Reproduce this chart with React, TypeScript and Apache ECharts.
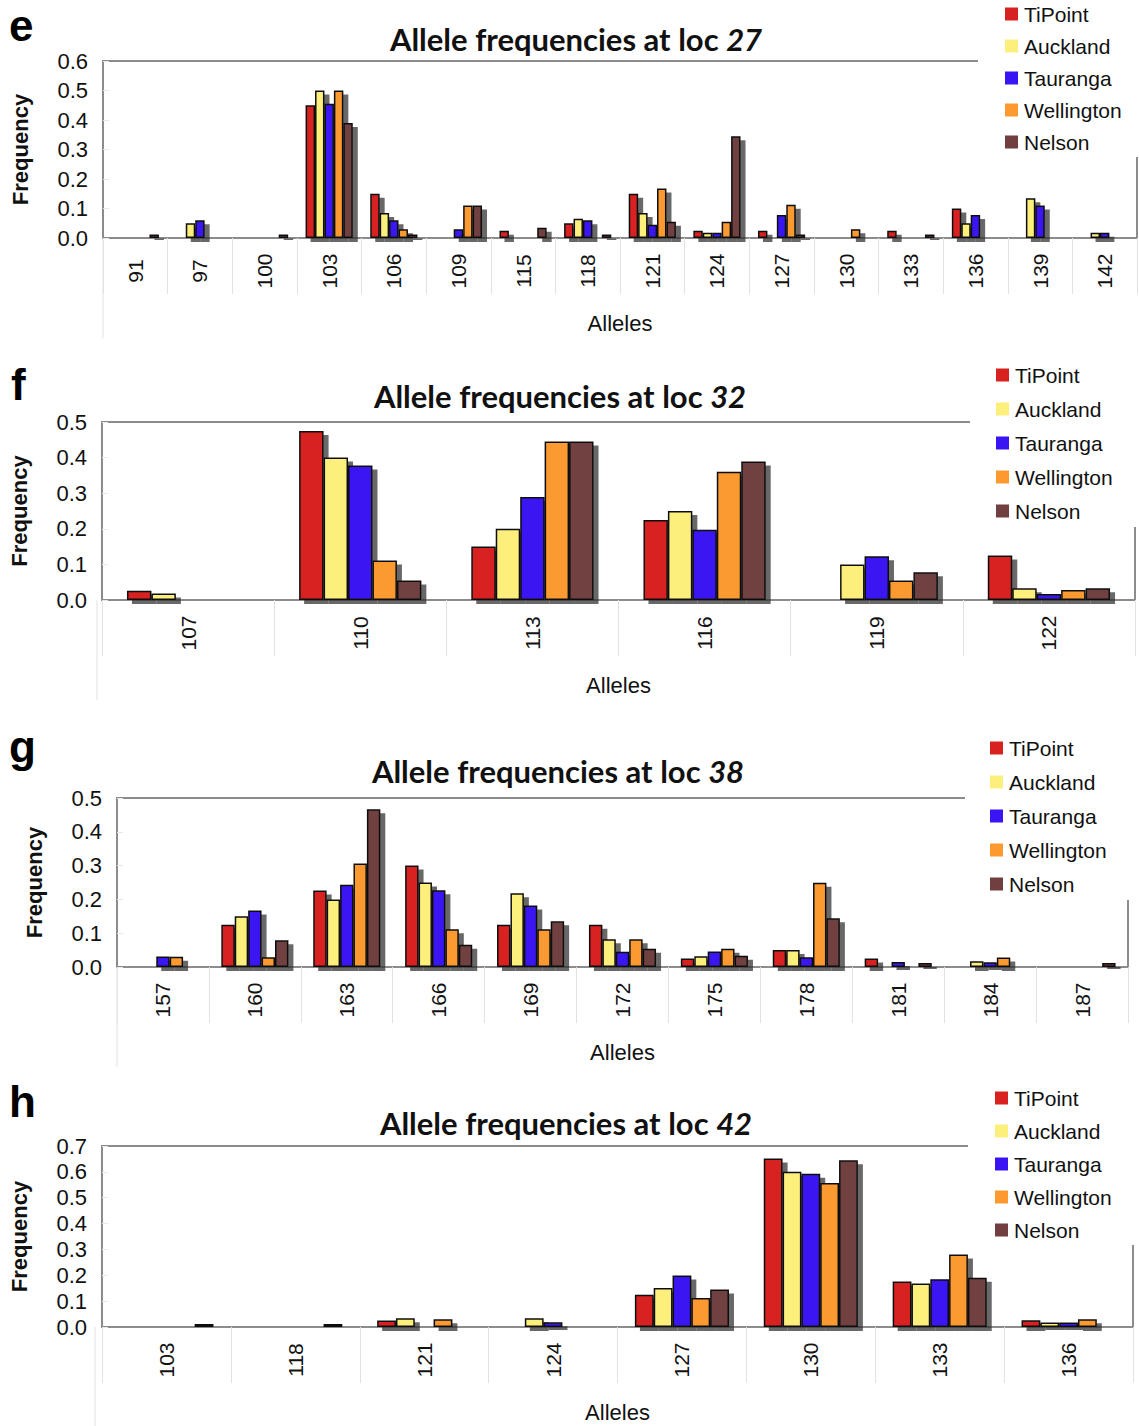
import React, { useEffect, useRef } from "react";
import * as echarts from "echarts";

const populations = ["TiPoint", "Auckland", "Tauranga", "Wellington", "Nelson"];
const popColors = ["#d82220", "#fcef7c", "#3a14f2", "#fc9a30", "#713f3f"];

// loc 27
const loc27Alleles = ["91", "97", "100", "103", "106", "109", "115", "118", "121", "124", "127", "130", "133", "136", "139", "142"];
const loc27TiPoint = [0, 0, 0, 0.45, 0.15, 0, 0.025, 0.05, 0.15, 0.025, 0.025, 0, 0.025, 0.1, 0, 0];
const loc27Auckland = [0, 0.05, 0, 0.5, 0.085, 0, 0, 0.065, 0.085, 0.018, 0, 0, 0, 0.05, 0.135, 0.018];
const loc27Tauranga = [0, 0.06, 0, 0.455, 0.06, 0.03, 0, 0.06, 0.045, 0.018, 0.078, 0, 0, 0.078, 0.11, 0.018];
const loc27Wellington = [0, 0, 0, 0.5, 0.03, 0.11, 0, 0, 0.168, 0.055, 0.113, 0.03, 0, 0, 0, 0];
const loc27Nelson = [0.012, 0, 0.012, 0.39, 0.012, 0.11, 0.035, 0.012, 0.055, 0.345, 0.012, 0, 0.012, 0, 0, 0];

// loc 32
const loc32Alleles = ["107", "110", "113", "116", "119", "122"];
const loc32TiPoint = [0.026, 0.475, 0.15, 0.225, 0, 0.125];
const loc32Auckland = [0.018, 0.4, 0.2, 0.25, 0.1, 0.033];
const loc32Tauranga = [0, 0.378, 0.289, 0.197, 0.123, 0.017];
const loc32Wellington = [0, 0.111, 0.445, 0.36, 0.055, 0.028];
const loc32Nelson = [0, 0.055, 0.445, 0.389, 0.078, 0.033];

// loc 38
const loc38Alleles = ["157", "160", "163", "166", "169", "172", "175", "178", "181", "184", "187"];
const loc38TiPoint = [0, 0.125, 0.226, 0.3, 0.125, 0.125, 0.025, 0.05, 0.025, 0, 0];
const loc38Auckland = [0, 0.15, 0.2, 0.25, 0.218, 0.082, 0.032, 0.05, 0, 0.017, 0];
const loc38Tauranga = [0.031, 0.167, 0.243, 0.227, 0.182, 0.045, 0.046, 0.029, 0.015, 0.014, 0];
const loc38Wellington = [0.03, 0.029, 0.306, 0.112, 0.112, 0.082, 0.054, 0.249, 0, 0.028, 0];
const loc38Nelson = [0, 0.079, 0.467, 0.066, 0.135, 0.054, 0.033, 0.144, 0.012, 0, 0.012];

// loc 42
const loc42Alleles = ["103", "118", "121", "124", "127", "130", "133", "136"];
const loc42TiPoint = [0, 0, 0.025, 0, 0.125, 0.652, 0.176, 0.026];
const loc42Auckland = [0, 0, 0.034, 0.034, 0.151, 0.6, 0.168, 0.017];
const loc42Tauranga = [0, 0, 0, 0.018, 0.199, 0.593, 0.185, 0.017];
const loc42Wellington = [0, 0, 0.03, 0, 0.112, 0.557, 0.28, 0.03];
const loc42Nelson = [0.012, 0.012, 0, 0, 0.145, 0.645, 0.19, 0];

const SANS = "'Liberation Sans', Arial, Helvetica, sans-serif";
const TITLE_FONT = "Lato, 'Liberation Sans', sans-serif";
const FRAME = "#8c8c8c";
const SEP = "#e2e2e2";

const panels = [
  {
    letter: "e", locus: "27", alleles: loc27Alleles,
    values: [loc27TiPoint, loc27Auckland, loc27Tauranga, loc27Wellington, loc27Nelson],
    ymax: 0.6, gap: "27%",
    grid: { left: 103, top: 61, width: 1034, height: 177 },
    legend: { left: 1005, top: 3, gap: 10 },
    title: { x: 576, y: 39 }, letterPos: { x: 9, y: 3 },
    cover: { x: 978, y: 0, width: 161, height: 157 },
  },
  {
    letter: "f", locus: "32", alleles: loc32Alleles,
    values: [loc32TiPoint, loc32Auckland, loc32Tauranga, loc32Wellington, loc32Nelson],
    ymax: 0.5, gap: "29%",
    grid: { left: 97, top: 422, width: 1038, height: 178 },
    legend: { left: 996, top: 364, gap: 12 },
    title: { x: 560, y: 396 }, letterPos: { x: 11, y: 362 },
    cover: { x: 970, y: 360, width: 169, height: 167 },
  },
  {
    letter: "g", locus: "38", alleles: loc38Alleles,
    values: [loc38TiPoint, loc38Auckland, loc38Tauranga, loc38Wellington, loc38Nelson],
    ymax: 0.5, gap: "27%",
    grid: { left: 117, top: 798, width: 1011, height: 169 },
    legend: { left: 990, top: 737, gap: 12 },
    title: { x: 558, y: 771 }, letterPos: { x: 9, y: 724 },
    cover: { x: 965, y: 735, width: 174, height: 165 },
  },
  {
    letter: "h", locus: "42", alleles: loc42Alleles,
    values: [loc42TiPoint, loc42Auckland, loc42Tauranga, loc42Wellington, loc42Nelson],
    ymax: 0.7, gap: "27%",
    grid: { left: 95, top: 1146, width: 1038, height: 181 },
    legend: { left: 995, top: 1087, gap: 11 },
    title: { x: 566, y: 1123 }, letterPos: { x: 9, y: 1079 },
    cover: { x: 968, y: 1085, width: 171, height: 160 },
  },
];

function buildOption() {
  const grid: any[] = [];
  const xAxis: any[] = [];
  const yAxis: any[] = [];
  const series: any[] = [];
  const legend: any[] = [];
  const graphic: any[] = [];

  panels.forEach((p, i) => {
    grid.push({
      ...p.grid,
      show: true,
      borderColor: FRAME,
      borderWidth: 2,
      backgroundColor: "transparent",
      containLabel: false,
    });
    xAxis.push({
      type: "category",
      gridIndex: i,
      data: p.alleles,
      name: "Alleles",
      nameLocation: "middle",
      nameGap: 85,
      nameTextStyle: { fontFamily: SANS, fontSize: 22, color: "#111", verticalAlign: "middle" },
      axisLine: { show: true, lineStyle: { color: FRAME, width: 2 } },
      axisTick: { show: true, interval: 0, alignWithLabel: false, length: 56, lineStyle: { color: SEP, width: 1 } },
      axisLabel: {
        interval: 0,
        rotate: 90,
        margin: 33,
        align: "center",
        verticalAlign: "middle",
        fontFamily: SANS,
        fontSize: 21,
        color: "#111",
      },
      splitLine: { show: false },
    });
    yAxis.push({
      type: "value",
      gridIndex: i,
      min: 0,
      max: p.ymax,
      interval: 0.1,
      name: "Frequency",
      nameLocation: "middle",
      nameGap: 83,
      nameTextStyle: { fontFamily: SANS, fontSize: 22, fontWeight: "bold", color: "#111", verticalAlign: "middle" },
      axisLine: { show: false },
      axisTick: { show: true, inside: true, length: 6, lineStyle: { color: "#e8e8e8" } },
      axisLabel: {
        margin: 15,
        fontFamily: SANS,
        fontSize: 22,
        color: "#111",
        formatter: (v: number) => v.toFixed(1),
      },
      splitLine: { show: false },
    });
    p.values.forEach((vals, k) => {
      series.push({
        type: "bar",
        name: populations[k],
        xAxisIndex: i,
        yAxisIndex: i,
        data: vals.map((v) => (v > 0 ? v : null)),
        barGap: "0%",
        barCategoryGap: p.gap,
        silent: true,
        itemStyle: {
          color: popColors[k],
          borderColor: "#111",
          borderWidth: 1.5,
          shadowColor: "rgba(45,45,45,0.72)",
          shadowBlur: 0,
          shadowOffsetX: 5,
          shadowOffsetY: 4,
        },
      });
    });
    legend.push({
      orient: "vertical",
      left: p.legend.left,
      top: p.legend.top,
      itemGap: p.legend.gap,
      itemWidth: 13,
      itemHeight: 13,
      padding: 0,
      icon: "rect",
      selectedMode: false,
      z: 10,
      data: populations.map((n) => ({ name: n, itemStyle: { borderWidth: 0 } })),
      textStyle: { fontFamily: SANS, fontSize: 21, color: "#111", lineHeight: 22, padding: [0, 0, 0, 1] },
    });
    graphic.push({
      type: "rect",
      z: 5,
      silent: true,
      shape: { ...p.cover },
      style: { fill: "#ffffff" },
    });
    const baseY = p.grid.top + p.grid.height;
    graphic.push({
      type: "line",
      z: 1,
      silent: true,
      shape: { x1: p.grid.left, y1: baseY, x2: p.grid.left, y2: baseY + 100 },
      style: { stroke: SEP, lineWidth: 1 },
    });
    graphic.push({
      type: "text",
      z: 10,
      x: p.title.x,
      y: p.title.y,
      style: {
        text: "{a|Allele frequencies at loc }{b|" + p.locus + "}",
        align: "center",
        verticalAlign: "middle",
        rich: {
          a: { fontFamily: TITLE_FONT, fontWeight: "bold", fontSize: 31, fill: "#111" },
          b: { fontFamily: TITLE_FONT, fontWeight: "bold", fontStyle: "italic", fontSize: 31, fill: "#111" },
        },
      },
    });
    graphic.push({
      type: "text",
      z: 10,
      x: p.letterPos.x,
      y: p.letterPos.y,
      style: {
        text: p.letter,
        align: "left",
        verticalAlign: "top",
        fontFamily: SANS,
        fontWeight: "bold",
        fontSize: 44,
        fill: "#000",
      },
    });
  });

  return {
    animation: false,
    backgroundColor: "#ffffff",
    grid,
    xAxis,
    yAxis,
    series,
    legend,
    graphic,
    tooltip: { show: false },
  };
}

export default function App() {
  const ref = useRef<HTMLDivElement>(null);
  useEffect(() => {
    if (!ref.current) return;
    const chart = echarts.init(ref.current, null, { renderer: "svg" });
    chart.setOption(buildOption());
    return () => chart.dispose();
  }, []);
  return (
    <div
      ref={ref}
      style={{ position: "absolute", left: 0, top: 0, width: 1139, height: 1426, background: "#fff" }}
    />
  );
}
